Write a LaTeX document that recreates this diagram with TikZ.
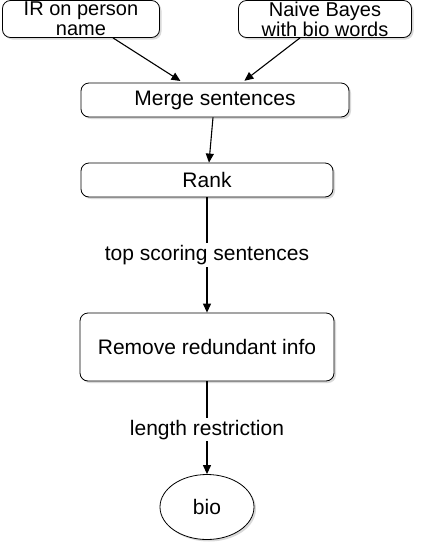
\documentclass[tikz,border=0pt]{standalone}
\usepackage{fontspec}
\setmainfont{Liberation Sans}
\usepackage{tikz}
\usetikzlibrary{arrows.meta,shadows,shapes.geometric}

\begin{document}
\begin{tikzpicture}[x=1pt,y=-1pt,font=\fontsize{21}{18}\selectfont,
	box/.style={draw,thick,rounded corners=8pt,fill=white,align=center,inner sep=0pt,
		drop shadow={opacity=.3,shadow xshift=2pt,shadow yshift=-2pt}},
	twoline/.style={box,font=\fontsize{20}{20}\selectfont,minimum height=37pt},
	link/.style={line width=1.1pt,-{Triangle[length=9pt,width=8pt]}},
	lbl/.style={fill=white,inner sep=2pt}]
	\useasboundingbox (0,0) rectangle (422,550);

	\node[twoline,minimum width=157pt] (ir) at (81,19) {IR on person\\name};
	\node[twoline,minimum width=173pt] (nb) at (325,19) {Naive Bayes\\with bio words};
	\node[box,minimum width=268pt,minimum height=34pt] (merge) at (215,100) {Merge sentences};
	\node[box,minimum width=252pt,minimum height=34pt] (rank) at (207,180) {Rank};
	\node[box,minimum width=254pt,minimum height=68pt] (remove) at (207,347) {Remove redundant info};
	\node[ellipse,draw,thick,fill=white,minimum width=94pt,minimum height=65pt,
		drop shadow={opacity=.3,shadow xshift=2pt,shadow yshift=-2pt}] (bio) at (207,507) {bio};

	\draw[link,shorten >=3pt] ([xshift=32pt]ir.south) -- ([xshift=-32pt]merge.north);
	\draw[link,shorten >=3pt] ([xshift=-25pt]nb.south) -- ([xshift=27pt]merge.north);
	\draw[link] ([xshift=-2pt]merge.south) -- ([xshift=2pt]rank.north);
	\draw[link] (rank.south) -- node[lbl] {top scoring sentences} (remove.north);
	\draw[link] (remove.south) -- node[lbl,pos=.52] {length restriction} (bio.north);
\end{tikzpicture}
\end{document}
